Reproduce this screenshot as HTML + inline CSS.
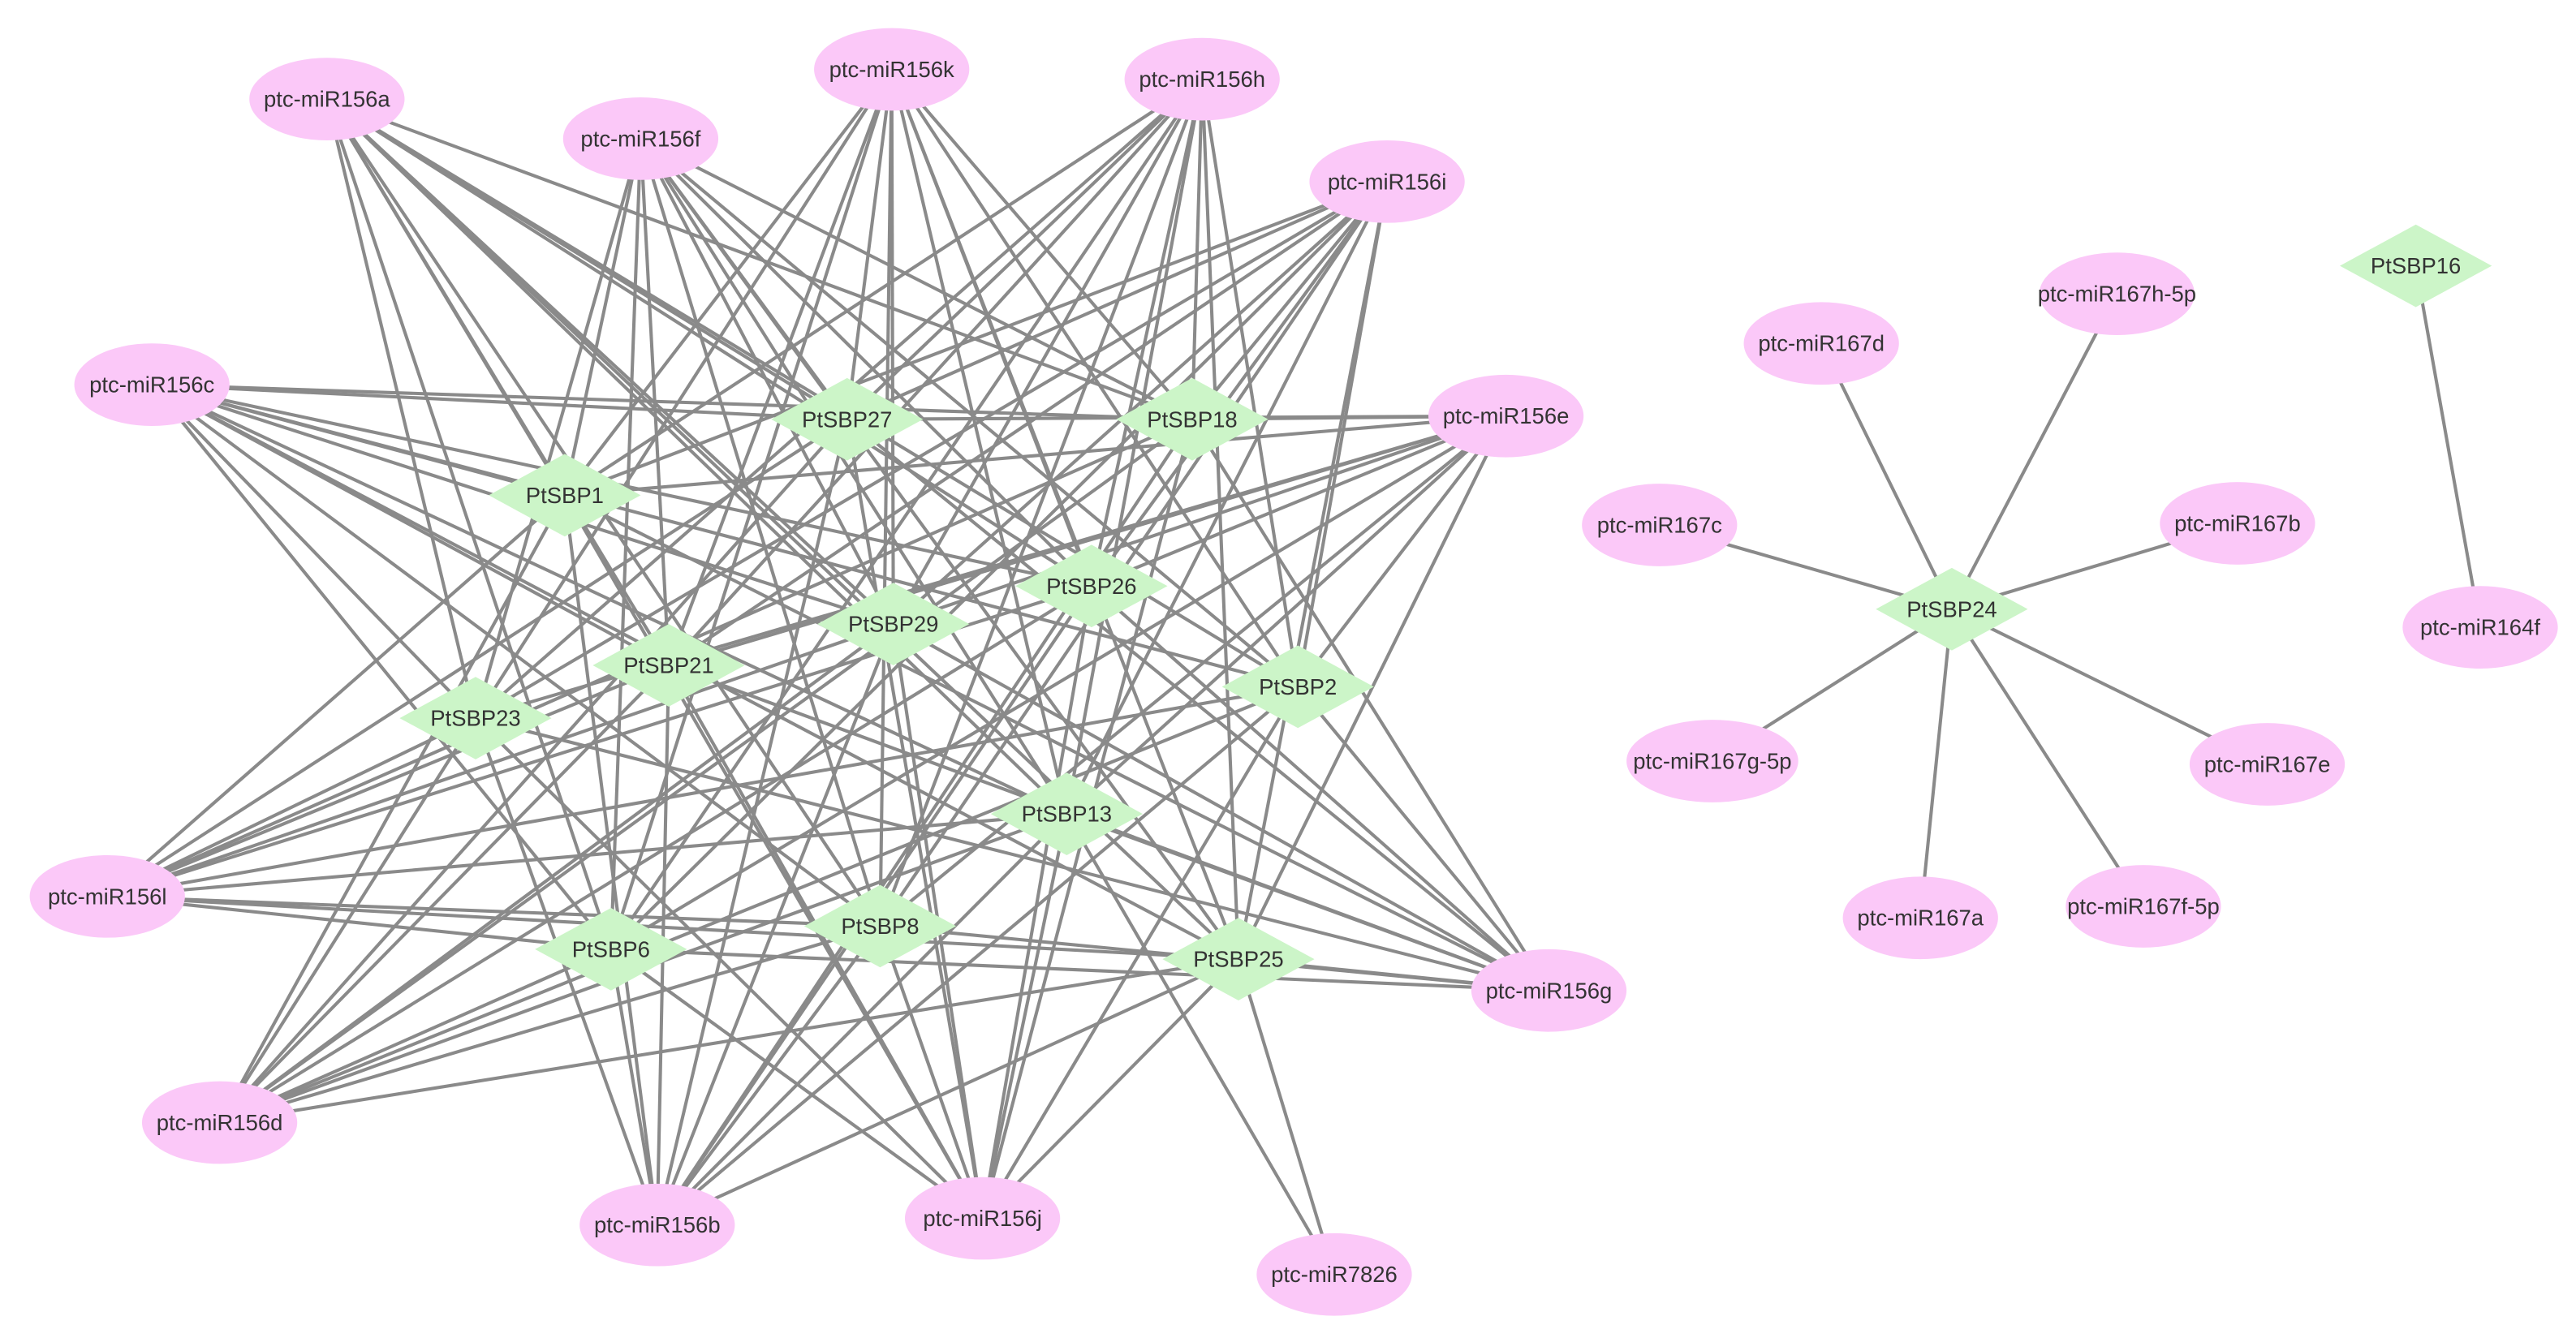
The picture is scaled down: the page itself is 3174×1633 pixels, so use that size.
<!DOCTYPE html>
<html><head><meta charset="utf-8"><style>
html,body{margin:0;padding:0;background:#fff;}
svg{display:block;}
text{font-family:"Liberation Sans",sans-serif;font-size:13.5px;fill:#333;text-anchor:middle;dominant-baseline:central;}
</style></head><body>
<svg id="s" width="3174" height="1633" viewBox="0 0 1560 802.6" xmlns="http://www.w3.org/2000/svg">
<g id="edges" stroke="#8a8a8a" stroke-width="2"></g>
<g id="nodes">
<g fill="#fbc8f8">
<ellipse cx="198" cy="60" rx="47" ry="25"/><ellipse cx="388" cy="84" rx="47" ry="25"/>
<ellipse cx="540" cy="42" rx="47" ry="25"/><ellipse cx="728" cy="48" rx="47" ry="25"/>
<ellipse cx="840" cy="110" rx="47" ry="25"/><ellipse cx="92" cy="233" rx="47" ry="25"/>
<ellipse cx="912" cy="252" rx="47" ry="25"/><ellipse cx="65" cy="543" rx="47" ry="25"/>
<ellipse cx="938" cy="600" rx="47" ry="25"/><ellipse cx="133" cy="680" rx="47" ry="25"/>
<ellipse cx="398" cy="742" rx="47" ry="25"/><ellipse cx="595" cy="738" rx="47" ry="25"/>
<ellipse cx="808" cy="772" rx="47" ry="25"/>
<ellipse cx="1103" cy="208" rx="47" ry="25"/><ellipse cx="1282" cy="178" rx="47" ry="25"/>
<ellipse cx="1005" cy="318" rx="47" ry="25"/><ellipse cx="1355" cy="317" rx="47" ry="25"/>
<ellipse cx="1037" cy="461" rx="52" ry="25"/><ellipse cx="1373" cy="463" rx="47" ry="25"/>
<ellipse cx="1163" cy="556" rx="47" ry="25"/><ellipse cx="1298" cy="549" rx="47" ry="25"/>
<ellipse cx="1502" cy="380" rx="47" ry="25"/>
</g>
<g fill="#ccf5c8" id="dia"></g>
<g>
<text x="198" y="60">ptc-miR156a</text><text x="388" y="84">ptc-miR156f</text>
<text x="540" y="42">ptc-miR156k</text><text x="728" y="48">ptc-miR156h</text>
<text x="840" y="110">ptc-miR156i</text><text x="92" y="233">ptc-miR156c</text>
<text x="912" y="252">ptc-miR156e</text><text x="65" y="543">ptc-miR156l</text>
<text x="938" y="600">ptc-miR156g</text><text x="133" y="680">ptc-miR156d</text>
<text x="398" y="742">ptc-miR156b</text><text x="595" y="738">ptc-miR156j</text>
<text x="808" y="772">ptc-miR7826</text>
<text x="1103" y="208">ptc-miR167d</text><text x="1282" y="178">ptc-miR167h-5p</text>
<text x="1005" y="318">ptc-miR167c</text><text x="1355" y="317">ptc-miR167b</text>
<text x="1037" y="461">ptc-miR167g-5p</text><text x="1373" y="463">ptc-miR167e</text>
<text x="1163" y="556">ptc-miR167a</text><text x="1298" y="549">ptc-miR167f-5p</text>
<text x="1502" y="380">ptc-miR164f</text>
<text x="513" y="254">PtSBP27</text><text x="722" y="254">PtSBP18</text>
<text x="342" y="300">PtSBP1</text><text x="661" y="355">PtSBP26</text>
<text x="541" y="378">PtSBP29</text><text x="405" y="403">PtSBP21</text>
<text x="786" y="416">PtSBP2</text><text x="288" y="435">PtSBP23</text>
<text x="646" y="493">PtSBP13</text><text x="370" y="575">PtSBP6</text>
<text x="533" y="561">PtSBP8</text><text x="750" y="581">PtSBP25</text>
<text x="1182" y="369">PtSBP24</text><text x="1463" y="161">PtSBP16</text>
</g>
</g>
</svg>
<script>
var mir=[[198,60],[388,84],[540,42],[728,48],[840,110],[92,233],[912,252],[65,543],[938,600],[133,680],[398,742],[595,738]];
var sbp=[[513,254],[722,254],[342,300],[661,355],[541,378],[405,403],[786,416],[288,435],[646,493],[370,575],[533,561],[750,581]];
var E=[];
mir.forEach(function(m){sbp.forEach(function(s){E.push([m,s]);});});
E.push([[808,772],[750,581]],[[808,772],[646,493]]);
var c=[1182,369];
[[1103,208],[1282,178],[1005,318],[1355,317],[1037,461],[1373,463],[1163,556],[1298,549]].forEach(function(m){E.push([m,c]);});
E.push([[1463,161],[1502,380]]);
var g=document.getElementById('edges'),h='';
E.forEach(function(e){h+='<line x1="'+e[0][0]+'" y1="'+e[0][1]+'" x2="'+e[1][0]+'" y2="'+e[1][1]+'"/>';});
g.innerHTML=h;
var d='';sbp.concat([[1182,369],[1463,161]]).forEach(function(p){var x=p[0],y=p[1];
d+='<polygon points="'+(x-46)+','+y+' '+x+','+(y-25)+' '+(x+46)+','+y+' '+x+','+(y+25)+'"/>';});
document.getElementById('dia').innerHTML=d;
</script>
</body></html>
